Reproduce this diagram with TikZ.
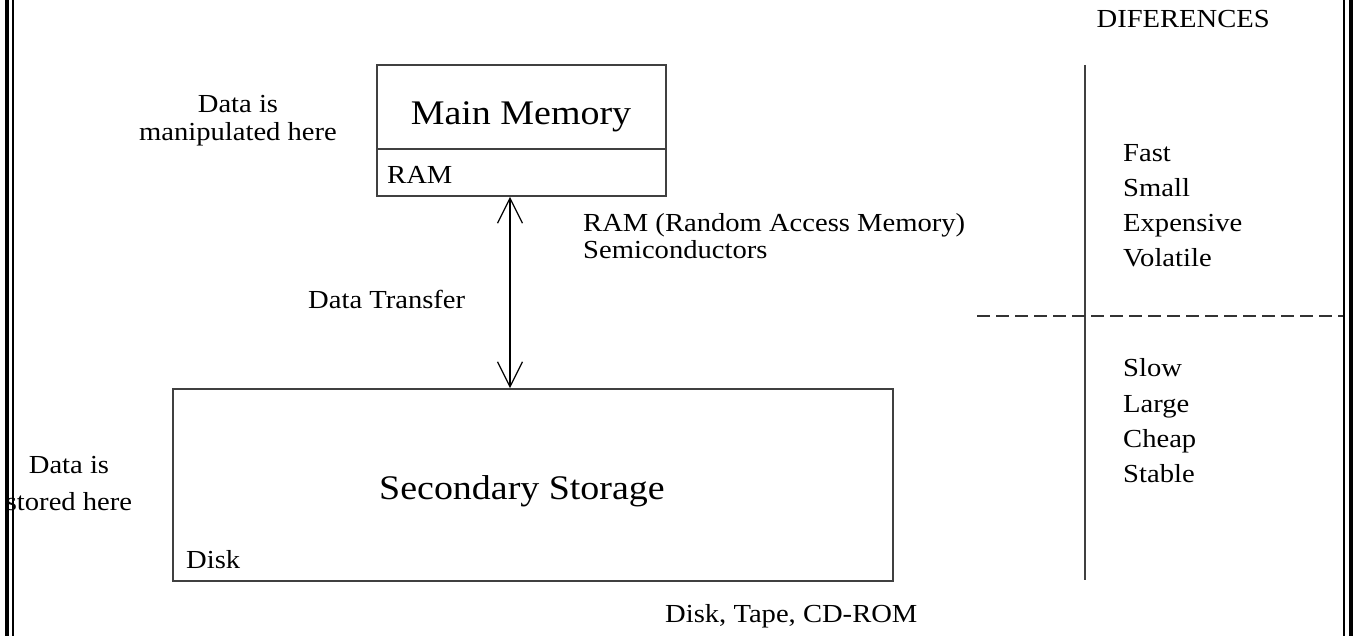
\documentclass[tikz,border=0pt]{standalone}
\usepackage{fontspec}
\setmainfont{Liberation Serif}[FakeStretch=1.1]
\usetikzlibrary{arrows.meta}
\begin{document}
\begin{tikzpicture}[x=1pt,y=-1pt,
  txt/.style={inner sep=0pt,font=\fontsize{26}{30}\selectfont},
  bigtxt/.style={inner sep=0pt,font=\fontsize{34.5}{40}\selectfont},
  box/.style={draw=black!75,line width=1.8pt,inner sep=0pt},
  frameline/.style={line width=#1,black},
  dataflow/.style={line width=1.2pt,{Straight Barb[length=25pt,width=25pt,line width=1.2pt]}-{Straight Barb[length=25pt,width=25pt,line width=1.2pt]}}
]
\useasboundingbox (0,0) rectangle (1358,636);
\fill[white] (0,0) rectangle (1358,636);

% storage boxes
\node[box,minimum width=289pt,minimum height=131pt] (mm) at (521.5,130.5) {};
\draw[black!75,line width=1.8pt] (mm.west |- 0,149) coordinate (divl) -- (mm.east |- 0,149) coordinate (divr);
\node[box,minimum width=720pt,minimum height=192pt] (ss) at (533,485) {};

\node[bigtxt,anchor=base] (mmlabel) at (521,125) {Main Memory};
\node[txt,anchor=base west] (ram) at (387,184) {RAM};
\node[bigtxt,anchor=base] (sslabel) at (522,499) {Secondary Storage};
\node[txt,anchor=base west] (disk) at (186,568) {Disk};

% transfer arrow between the two levels
\coordinate (ax) at (510,0);
\draw[dataflow] (mm.south -| ax) -- (ss.north -| ax);
\node[txt,anchor=base west] (transfer) at (308,309) {Data Transfer};

% side notes
\node[txt,anchor=base] (dm1) at (238,113) {Data is};
\node[txt,anchor=base] (dm2) at (238,141) {manipulated here};
\node[txt,anchor=base] (ds1) at (69,473) {Data is};
\node[txt,anchor=base] (ds2) at (69,510) {stored here};
\node[txt,anchor=base west] (r1) at (583,232) {RAM (Random Access Memory)};
\node[txt,anchor=base west] (r2) at (583,259) {Semiconductors};
\node[txt,anchor=base west] (media) at (665,622) {Disk, Tape, CD-ROM};

% differences table
\node[txt,anchor=base east] (diff) at (1270,28) {DIFERENCES};
\coordinate (vtop) at (1085,65);
\coordinate (vbot) at (1085,580);
\draw[black!75,line width=1.4pt] (vtop) -- (vbot);
\coordinate (hl) at (977,316);
\coordinate (hr) at (1343,316);
\draw[black!80,line width=1.8pt,dash pattern=on 13pt off 6pt] (hl) -- (hr);

\foreach \w [count=\i] in {Fast,Small,Expensive,Volatile}
  \node[txt,anchor=base west] (up\i) at (1123,127+35*\i) {\w};
\foreach \w [count=\i] in {Slow,Large,Cheap,Stable}
  \node[txt,anchor=base west] (lo\i) at (1123,342+35*\i) {\w};

% page frame: double rules at left and right
\draw[frameline=4pt] (7,0) -- (7,636);
\draw[frameline=2pt] (13,0) -- (13,636);
\draw[frameline=2pt] (1344,0) -- (1344,636);
\draw[frameline=4pt] (1351,0) -- (1351,636);
\end{tikzpicture}
\end{document}
